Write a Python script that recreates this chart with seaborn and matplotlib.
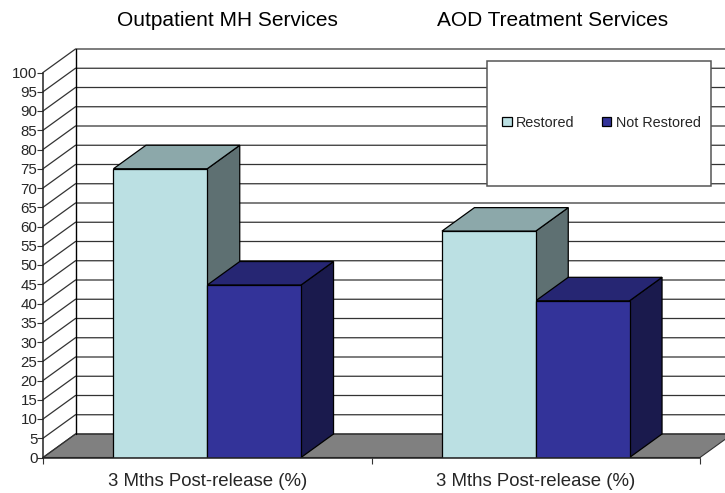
import numpy as np
import pandas as pd
import seaborn as sns
from matplotlib import pyplot as plt
from matplotlib.patches import Polygon, Rectangle

# values
groups = ['Outpatient MH Services', 'AOD Treatment Services']
statuses = ['Restored', 'Not Restored']
restored = [75, 58.8]
not_restored = [44.8, 40.7]
xlabel = '3 Mths Post-release (%)'
yticks = list(range(0, 101, 5))

front_colors = ['#BBE0E3', '#333399']
top_colors = ['#8CA8AA', '#262673']
side_colors = ['#5E7072', '#1A1A4D']

sns.set_style('white')
plt.rcParams['font.family'] = ['Liberation Sans', 'DejaVu Sans']

W, H = 725, 493
fig = plt.figure(figsize=(W / 100, H / 100), dpi=100)
# front plane of the fake 3d box, in pixels
left, right, bottom, top = 43, 700, 457.5, 72.5
ax = fig.add_axes([left / W, 1 - bottom / H, (right - left) / W, (bottom - top) / H])

df = pd.DataFrame({
    'group': groups * 2,
    'status': [statuses[0]] * 2 + [statuses[1]] * 2,
    'pct': restored + not_restored,
})
sns.barplot(data=df, x='group', y='pct', hue='status', hue_order=statuses,
            palette=front_colors, width=0.571, gap=0, saturation=1,
            edgecolor='black', linewidth=0.9, ax=ax)

ax.set_xlim(-0.5, 1.5)
ax.set_ylim(0, 100)
# depth of the box in data units
dx = 32.5 / ((right - left) / 2)
dy = 23.5 / ((bottom - top) / 100)

x0, x1 = ax.get_xlim()
ax.add_patch(Polygon([(x0, 0), (x0 + dx, dy), (x1 + dx, dy), (x1, 0)], closed=True,
                     facecolor='#808080', edgecolor='#333333', lw=0.8,
                     clip_on=False, zorder=0.5))
for t in yticks:
    ax.plot([x0, x0 + dx, x1 + dx], [t, t + dy, t + dy], color='#333333', lw=0.9,
            clip_on=False, zorder=0.7, solid_joinstyle='miter')
ax.plot([x0 + dx, x0 + dx], [dy, 100 + dy], color='black', lw=1, clip_on=False, zorder=0.7)

# top and side faces built from the bars seaborn drew
for k, cont in enumerate(ax.containers):
    for bar in cont:
        bx0, bx1 = bar.get_x(), bar.get_x() + bar.get_width()
        h = bar.get_height()
        ax.add_patch(Polygon([(bx1, 0), (bx1 + dx, dy), (bx1 + dx, h + dy), (bx1, h)], closed=True,
                             facecolor=side_colors[k], edgecolor='black', lw=0.9,
                             clip_on=False, zorder=2 + k * 0.5))
        ax.add_patch(Polygon([(bx0, h), (bx0 + dx, h + dy), (bx1 + dx, h + dy), (bx1, h)], closed=True,
                             facecolor=top_colors[k], edgecolor='black', lw=0.9,
                             clip_on=False, zorder=2 + k * 0.5))
        bar.set_zorder(4)

sns.despine(ax=ax, top=True, right=True)
for s in ['left', 'bottom']:
    ax.spines[s].set_color('#222222')
    ax.spines[s].set_linewidth(1.1)
    ax.spines[s].set_zorder(5)

ax.set_yticks(yticks)
ax.set_xticks([-0.5, 0.5, 1.5], minor=False)
ax.set_xticklabels([])
ax.set_xticks([0, 1], minor=True)
ax.set_xticklabels([xlabel, xlabel], minor=True, fontsize=13.4)
ax.tick_params(axis='x', which='major', length=4, width=0.8, color='#333333', bottom=True)
ax.tick_params(axis='x', which='minor', length=0, pad=11.5, bottom=False)
ax.tick_params(axis='y', length=4.5, width=0.8, color='#333333', left=True, labelsize=10.8, pad=-0.5)
ax.set_xlabel('')
ax.set_ylabel('')

# group names above the chart
fig.text(227.5 / W, 1 - 20 / H, groups[0], ha='center', va='center', fontsize=15, color='black')
fig.text(553 / W, 1 - 20 / H, groups[1], ha='center', va='center', fontsize=15, color='black')

# legend box
fig.add_artist(Rectangle((487 / W, 1 - 185.7 / H), 224 / W, 125 / H, transform=fig.transFigure,
                         facecolor='white', edgecolor='#555555', lw=1.1, zorder=6))
handles, labels = ax.get_legend_handles_labels()
ax.legend_.remove()
leg = fig.legend(handles, labels, ncol=2, frameon=False, loc='center',
                 bbox_to_anchor=(601.4 / W, 1 - 122.7 / H), fontsize=10.4,
                 handlelength=0.66, handleheight=0.66, handletextpad=0.32, columnspacing=1.87)
leg.set_zorder(7)

fig.savefig('out.png', dpi=100)
